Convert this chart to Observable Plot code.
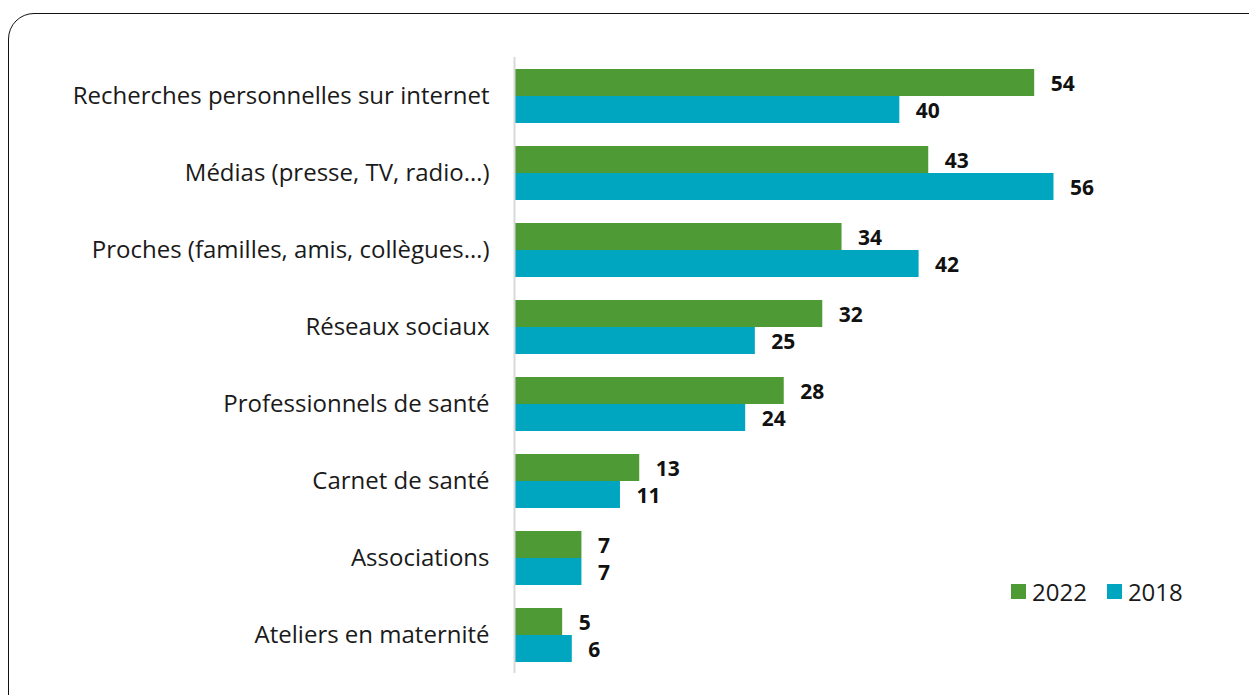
<!DOCTYPE html>
<html>
<head>
<meta charset="utf-8">
<script src="https://cdn.jsdelivr.net/npm/d3@7"></script>
<script src="https://cdn.jsdelivr.net/npm/@observablehq/plot@0.6"></script>
<style>
  html, body { margin: 0; padding: 0; background: #fff; overflow: hidden; }
  body { width: 1249px; height: 695px; position: relative; font-family: "Open Sans", sans-serif; }
  #frame { position: absolute; left: 8px; top: 13px; width: 1300px; height: 750px;
           border: 1.5px solid #111; border-radius: 26px; box-sizing: border-box; }
  #chart { position: absolute; left: 0; top: 0; }
  #legend { position: absolute; left: 1011px; top: 575px; display: flex; align-items: center;
            font-size: 24px; color: #1a1a1a; }
  #legend .sw { display: inline-block; width: 15px; height: 15px; margin-right: 6px; }
  #legend .item { display: flex; align-items: center; margin-right: 20px; }
</style>
</head>
<body>
<div id="frame"></div>
<div id="chart"></div>
<div id="legend"></div>
<script>
const categories = [
  "Recherches personnelles sur internet",
  "Médias (presse, TV, radio…)",
  "Proches (familles, amis, collègues…)",
  "Réseaux sociaux",
  "Professionnels de santé",
  "Carnet de santé",
  "Associations",
  "Ateliers en maternité"
];
const years = ["2022", "2018"];
const values2022 = [54, 43, 34, 32, 28, 13, 7, 5];
const values2018 = [40, 56, 42, 25, 24, 11, 7, 6];
const colors = ["#4e9a35", "#00a6c0"];

const data = [];
categories.forEach((c, i) => {
  data.push({category: c, year: "2022", value: values2022[i]});
  data.push({category: c, year: "2018", value: values2018[i]});
});

const chart = Plot.plot({
  width: 1249,
  height: 695,
  marginLeft: 514,
  marginRight: 157,
  marginTop: 57,
  marginBottom: 22,
  style: {fontFamily: "Open Sans, sans-serif", background: "transparent"},
  x: {domain: [0, 60], axis: null},
  y: {domain: years, axis: null, paddingInner: 0, paddingOuter: 0},
  fy: {domain: categories, paddingInner: 0.286, paddingOuter: 0.143, axis: "left",
       label: null, tickSize: 0, tickPadding: 25, fontSize: 24},
  color: {domain: years, range: colors},
  marks: [
    Plot.barX(data, {fy: "category", y: "year", x: "value", fill: "year", insetTop: 0, insetBottom: 0}),
    Plot.text(data, {fy: "category", y: "year", x: "value", text: d => String(d.value),
      dx: 16, dy: 1, textAnchor: "start", fontWeight: "bold", fontSize: 21, fill: "#111"}),
    Plot.ruleX([0], {stroke: "#d9d9d9", strokeWidth: 2, insetTop: -11, insetBottom: -11})
  ]
});
chart.querySelectorAll("g[aria-label='fy-axis tick label']").forEach(el => {
  el.setAttribute("font-size", 24);
  el.setAttribute("fill", "#1a1a1a");
});
document.getElementById("chart").appendChild(chart);

const legend = document.getElementById("legend");
years.forEach((y, i) => {
  const item = document.createElement("div");
  item.className = "item";
  const sw = document.createElement("span");
  sw.className = "sw";
  sw.style.background = colors[i];
  const t = document.createElement("span");
  t.textContent = y;
  item.appendChild(sw);
  item.appendChild(t);
  legend.appendChild(item);
});
</script>
</body>
</html>
